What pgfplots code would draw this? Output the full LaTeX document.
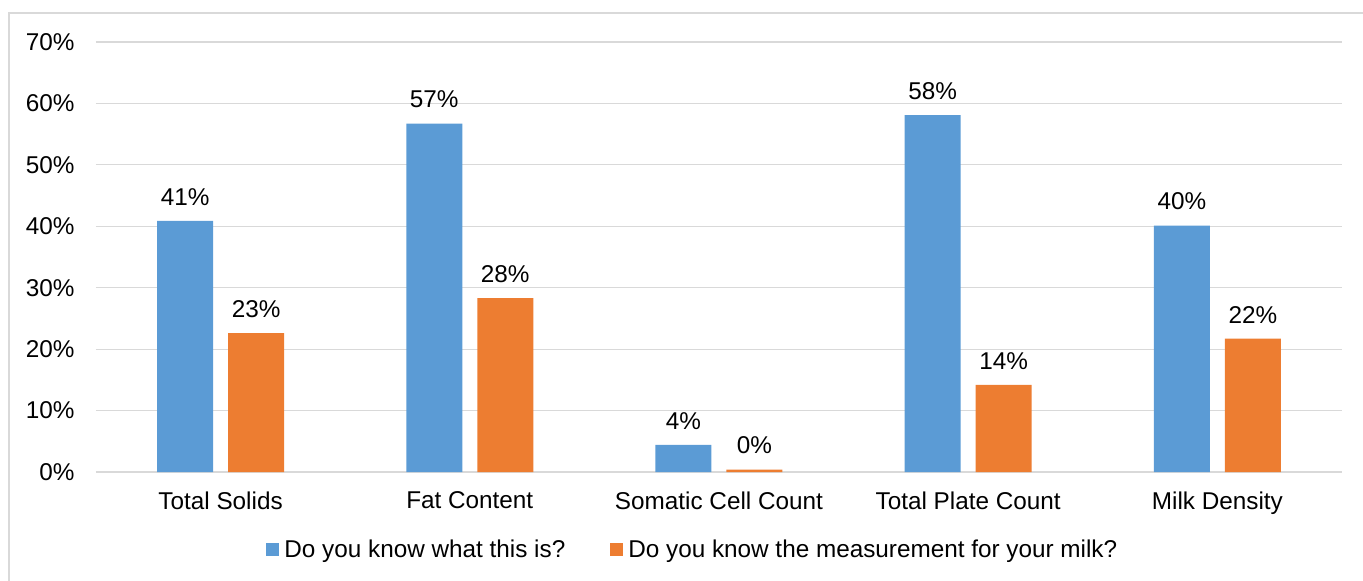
\documentclass[border=0pt]{standalone}
\usepackage{pgfplots}
\pgfplotsset{compat=1.18}
\usepackage{fontspec}
\setmainfont{Liberation Sans}
\definecolor{cblue}{HTML}{5B9BD5}
\definecolor{corange}{HTML}{ED7D31}
\definecolor{cgrid}{HTML}{D9D9D9}
\begin{document}
\begin{tikzpicture}
\useasboundingbox (-96bp,-109bp) rectangle (1267bp,472bp);
\draw[cgrid, line width=1.2bp] (-87bp,-109bp) -- (-87bp,459bp) -- (1267bp,459bp);
\begin{axis}[
  at={(0,0)}, anchor=south west,
  scale only axis, width=1246bp, height=430bp,
  font=\fontsize{24.3bp}{29bp}\selectfont,
  ybar=15bp, bar width=56bp,
  xmin=-0.5, xmax=4.5, ymin=0, ymax=70,
  xtick={0,1,2,3,4},
  xticklabels={Total Solids, Fat Content, Somatic Cell Count, Total Plate Count, Milk Density},
  ytick={0,10,...,70},
  yticklabel={\pgfmathprintnumber{\tick}\%},
  /pgf/number format/assume math mode=true,
  major tick length=0pt,
  ymajorgrids, grid style={cgrid, line width=1.2bp},
  axis x line*=bottom, axis y line*=left,
  x axis line style={cgrid, line width=1.2bp, -},
  y axis line style={draw=none},
  yticklabel style={xshift=-18bp},
  xticklabel style={yshift=-16bp},
  nodes near coords={\pgfmathprintnumber[fixed,precision=0]{\pgfplotspointmeta}\%},
  every node near coord/.append style={font=\fontsize{24.3bp}{29bp}\selectfont, text=black, yshift=12bp},
  legend columns=2,
  legend style={draw=none, at={(0.479,-0.181)}, anchor=center,
    font=\fontsize{24.3bp}{29bp}\selectfont,
    /tikz/every even column/.append style={column sep=43bp},
    /tikz/every odd column/.append style={column sep=3bp}},
]
\addplot[fill=cblue, draw=none,
  legend image code/.code={\fill[cblue] (0bp,-6.5bp) rectangle (13bp,6.5bp);}]
  coordinates {(0,40.9) (1,56.7) (2,4.4) (3,58.1) (4,40.1)};
\addlegendentry{Do you know what this is?}
\addplot[fill=corange, draw=none,
  legend image code/.code={\fill[corange] (0bp,-6.5bp) rectangle (13bp,6.5bp);}]
  coordinates {(0,22.6) (1,28.3) (2,0.4) (3,14.2) (4,21.7)};
\addlegendentry{Do you know the measurement for your milk?}
\end{axis}
\end{tikzpicture}
\end{document}
